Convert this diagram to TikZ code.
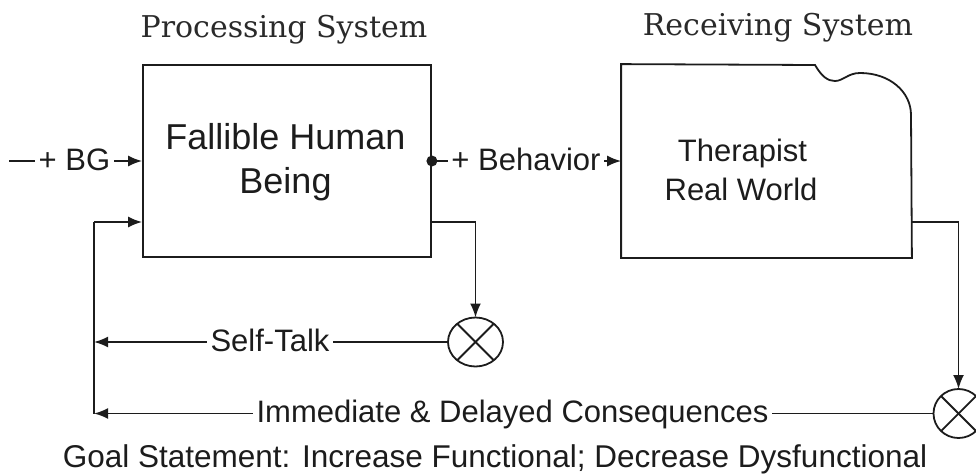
\documentclass[tikz,border=0pt]{standalone}
\usepackage{fontspec}
\setmainfont{Liberation Sans}
\newfontfamily\titlefont{DejaVu Serif}
\usetikzlibrary{arrows.meta,shapes.geometric,calc}
\definecolor{ink}{HTML}{1C1C1C}
\definecolor{titleink}{HTML}{2A2A2A}
\begin{document}
\begin{tikzpicture}[x=1pt,y=-1pt,line width=1.8pt,draw=ink,
  block/.style={draw,rectangle,minimum width=288pt,minimum height=192pt,inner sep=0pt},
  lbl/.style={font=\fontsize{31}{36}\selectfont,text=ink,inner sep=0pt,inner xsep=3pt,
    text height=22pt,text depth=3.5pt},
  boxtext/.style={text=ink,inner sep=0pt,anchor=base},
  title/.style={font=\titlefont\fontsize{30}{36}\selectfont,text=titleink,inner sep=0pt,anchor=base},
  sumj/.style={draw,ellipse,inner sep=0pt,outer sep=0pt},
  arr/.style={-{Latex[length=14pt,width=11pt]}}]
\useasboundingbox (0,0) rectangle (976,474);

% titles
\node[title] (ptitle) at (284,37) {Processing System};
\node[title] (rtitle) at (778,35) {Receiving System};

% processing block
\node[block] (fhb) at (287,161) {};
\node[boxtext,font=\fontsize{36}{44}\selectfont] (fhb1) at (285.5,149) {Fallible Human};
\node[boxtext,font=\fontsize{36}{44}\selectfont] (fhb2) at (285.5,193) {Being};

% receiving block: rectangle with a wavy top-right corner
\node[rectangle,minimum width=289pt,minimum height=192pt,inner sep=0pt] (rw) at (766.5,161) {};
\draw (rw.south west) -- (rw.north west) -- (815,65)
  .. controls (822,77) and (828,81) .. (835,81)
  .. controls (843,81) and (848,73) .. (860,73)
  .. controls (890,73) and (911,92) .. (911,115)
  -- (rw.south east) -- cycle;
\node[boxtext,font=\fontsize{31}{40}\selectfont] (rw1) at (742.5,161) {Therapist};
\node[boxtext,font=\fontsize{31}{40}\selectfont] (rw2) at (741,200) {Real World};

% summing junctions
\node[sumj,minimum width=55pt,minimum height=49pt] (sum1) at (475.5,342) {};
\node[sumj,minimum width=50pt,minimum height=49pt] (sum2) at (958.5,413.5) {};
\foreach \s in {sum1,sum2}{
  \draw (\s.45) -- (\s.225);
  \draw (\s.135) -- (\s.315);
}

% input
\coordinate (bgin) at (9,161);
\node[lbl] (bg) at (74.5,161) {+ BG};
\draw (bgin) -- (bg.west);
\draw[arr] (bg.east) -- (fhb.west);

% behaviour output
\node[lbl] (beh) at (526,161) {+ Behavior};
\fill[ink] (fhb.east) circle (5.5pt);
\draw (fhb.east) -- (beh.west);
\draw[arr] (beh.east) -- (rw.west);

% outputs down to the junctions
\coordinate (fhbo) at (431,222);
\coordinate (rwo) at (911,222);
\draw[arr] (fhbo) -| (sum1.north);
\draw[arr] (rwo) -| (sum2.north);

% feedback paths
\coordinate (fbtop) at (94,222);
\coordinate (fbbot) at (94,413.5);
\draw (fbbot) -- (fbtop);
\draw[arr] (fbtop) -- (fbtop -| fhb.west);

\node[lbl] (st) at (270,342) {Self-Talk};
\draw (sum1.west) -- (st.east);
\draw[arr] (st.west) -- (st.west -| fbtop);

\node[lbl] (con) at (512.5,413.5) {Immediate \& Delayed Consequences};
\draw (sum2.west) -- (con.east);
\draw[arr] (con.west) -- (con.west -| fbbot);

% goal statement
\node[lbl,font=\fontsize{31.5}{36}\selectfont] (goal) at (495,458) {Goal Statement: Increase Functional; Decrease Dysfunctional};
\end{tikzpicture}
\end{document}
